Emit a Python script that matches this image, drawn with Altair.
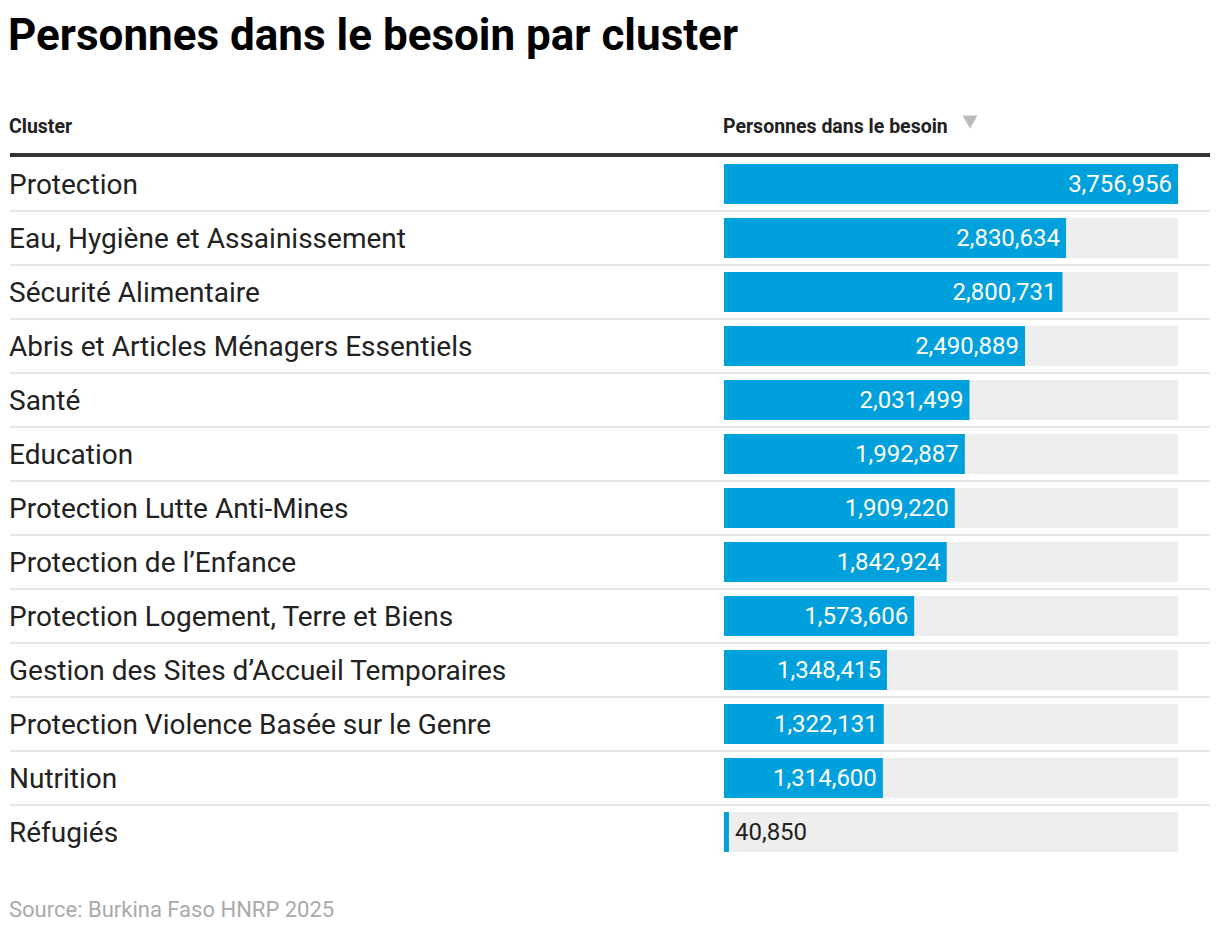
import altair as alt
import pandas as pd

categories = [
    "Protection",
    "Eau, Hygiène et Assainissement",
    "Sécurité Alimentaire",
    "Abris et Articles Ménagers Essentiels",
    "Santé",
    "Education",
    "Protection Lutte Anti-Mines",
    "Protection de l\u2019Enfance",
    "Protection Logement, Terre et Biens",
    "Gestion des Sites d\u2019Accueil Temporaires",
    "Protection Violence Basée sur le Genre",
    "Nutrition",
    "Réfugiés",
]
values = [3756956, 2830634, 2800731, 2490889, 2031499, 1992887, 1909220,
          1842924, 1573606, 1348415, 1322131, 1314600, 40850]

title_text = "Personnes dans le besoin par cluster"
col1_header = "Cluster"
col2_header = "Personnes dans le besoin"
source_text = "Source: Burkina Faso HNRP 2025"

vmax = max(values)
df = pd.DataFrame({"cluster": categories, "value": values})
df["max"] = vmax
df["inside"] = df["value"] > vmax * 0.2
df["last"] = df["cluster"] == categories[-1]

FONT = "Roboto"
yscale = alt.Scale(domain=categories, range=[149, 851], paddingInner=0, paddingOuter=0)
xscale = alt.Scale(domain=[0, vmax], range=[716, 1170], nice=False, zero=True)

base = alt.Chart(df)
Y = alt.Y("cluster:N", scale=yscale, axis=None, sort=categories)

seps = base.transform_filter("!datum.last").mark_rule(color="#e6e6e6", strokeWidth=2).encode(
    y=alt.Y("cluster:N", scale=yscale, axis=None, sort=categories, bandPosition=1),
    x=alt.value(2), x2=alt.value(1202),
)

bg = base.mark_bar(color="#eeeeee", size=40).encode(
    y=Y,
    x=alt.X("max:Q", scale=xscale, axis=None),
    x2=alt.datum(0),
)

bars = base.mark_bar(color="#00a0dc", size=40).encode(
    y=Y,
    x=alt.X("value:Q", scale=xscale, axis=None),
    x2=alt.datum(0),
)

lab_in = base.transform_filter("datum.inside").mark_text(
    align="right", baseline="middle", dx=-6, dy=1, font=FONT, fontSize=24, color="white"
).encode(y=Y, x=alt.X("value:Q", scale=xscale, axis=None), text=alt.Text("value:Q", format=",d"))

lab_out = base.transform_filter("!datum.inside").mark_text(
    align="left", baseline="middle", dx=6, dy=1, font=FONT, fontSize=24, color="#222222"
).encode(y=Y, x=alt.X("value:Q", scale=xscale, axis=None), text=alt.Text("value:Q", format=",d"))

cat_text = base.mark_text(
    align="left", baseline="middle", dy=2, font=FONT, fontSize=28, color="#222222"
).encode(y=Y, x=alt.value(1), text="cluster:N")

deco = pd.DataFrame({"t": [0]})
dbase = alt.Chart(deco)

title = dbase.mark_text(
    text=title_text, align="left", baseline="alphabetic", font=FONT, fontSize=44,
    fontWeight="bold", color="#000000"
).encode(x=alt.value(0), y=alt.value(42))

h1 = dbase.mark_text(
    text=col1_header, align="left", baseline="alphabetic", font=FONT, fontSize=19.5,
    fontWeight="bold", color="#222222"
).encode(x=alt.value(1), y=alt.value(125))

h2 = dbase.mark_text(
    text=col2_header, align="left", baseline="alphabetic", font=FONT, fontSize=19.5,
    fontWeight="bold", color="#222222"
).encode(x=alt.value(715), y=alt.value(125))

arrow = dbase.mark_point(shape="triangle-down", filled=True, color="#bbbbbb", size=220, opacity=1).encode(
    x=alt.value(962), y=alt.value(114)
)

thick = dbase.mark_rule(color="#333333", strokeWidth=4).encode(
    x=alt.value(2), x2=alt.value(1202), y=alt.value(147)
)

src = dbase.mark_text(
    text=source_text, align="left", baseline="alphabetic", font=FONT, fontSize=22,
    color="#aaaaaa"
).encode(x=alt.value(1), y=alt.value(909))

chart = alt.layer(
    seps, bg, bars, lab_in, lab_out, cat_text, title, h1, h2, arrow, thick, src
).resolve_scale(y="shared", x="shared").properties(
    width=1204, height=926, autosize=alt.AutoSizeParams(type="none"),
    padding=0,
    background="white",
).configure_view(stroke=None)

chart.save("out.html", embed_options={"renderer": "svg", "actions": False})
